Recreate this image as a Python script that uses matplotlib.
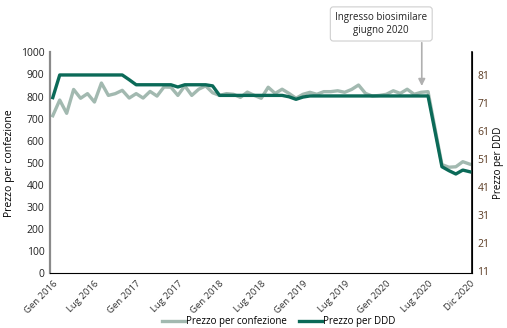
import matplotlib.pyplot as plt
import numpy as np

# prezzo per confezione (asse sinistro), 61 punti mensili
prezzo_confezione = [713, 784, 724, 832, 792, 813, 775, 861, 805, 813,
                     828, 793, 813, 793, 823, 802, 843, 842, 805, 848,
                     805, 833, 848, 817, 805, 813, 810, 796, 820, 805,
                     792, 842, 814, 833, 814, 792, 810, 819, 810, 822,
                     822, 826, 819, 832, 852, 814, 802, 805, 810, 826,
                     814, 833, 810, 819, 822, 656, 492, 480, 482, 505,
                     494]

# prezzo per DDD (asse destro)
prezzo_ddd = [73.0, 81.1, 81.1, 81.1, 81.1, 81.1, 81.1, 81.1, 81.1, 81.1,
              81.1, 79.4, 77.6, 77.6, 77.6, 77.6, 77.6, 77.6, 76.8, 77.6,
              77.6, 77.6, 77.6, 77.2, 73.8, 73.8, 73.8, 73.8, 73.8, 73.8,
              73.8, 73.8, 73.8, 73.8, 73.3, 72.4, 73.2, 73.6, 73.6, 73.6,
              73.6, 73.6, 73.6, 73.6, 73.6, 73.6, 73.6, 73.6, 73.6, 73.6,
              73.6, 73.6, 73.6, 73.6, 73.6, 61.0, 48.3, 46.9, 45.7, 47.1,
              46.5]

etichette_x = ["Gen 2016", "Lug 2016", "Gen 2017", "Lug 2017", "Gen 2018",
               "Lug 2018", "Gen 2019", "Lug 2019", "Gen 2020", "Lug 2020",
               "Dic 2020"]
tick_sinistra = [0, 100, 200, 300, 400, 500, 600, 700, 800, 900, 1000]
tick_destra = [11, 21, 31, 41, 51, 61, 71, 81]

chiaro = "#a2b9b0"
scuro = "#0b6a58"

plt.rcParams['font.family'] = ['Open Sans', 'DejaVu Sans']

fig = plt.figure(figsize=(5.07, 3.28), dpi=100)
ax = fig.add_axes([0.0986, 0.1668, 0.832, 0.6737])
ax2 = ax.twinx()

x = np.arange(len(prezzo_confezione))
l1, = ax.plot(x, prezzo_confezione, color=chiaro, lw=2.4,
              label="Prezzo per confezione", zorder=2)
l2, = ax2.plot(x, prezzo_ddd, color=scuro, lw=2.4,
               label="Prezzo per DDD", zorder=3)

ax.set_xlim(-0.4, 60.3)
ax.set_ylim(0, 1000)
ax2.set_ylim(10.2, 89.2)

ax.set_yticks(tick_sinistra)
ax.set_yticklabels([str(v) for v in tick_sinistra], fontsize=7.5,
                   color="#222222")
ax2.set_yticks(tick_destra)
ax2.set_yticklabels([str(v) for v in tick_destra], fontsize=7.5,
                    color="#5a3a22")
ax.set_xticks(np.arange(0, 61, 6))
ax.set_xticklabels(etichette_x, rotation=45, ha="right",
                   rotation_mode="anchor", fontsize=6.8, color="#333333")
ax.tick_params(length=0, pad=4)
ax2.tick_params(length=0, pad=4)

ax.set_ylabel("Prezzo per confezione", fontsize=7.5, labelpad=4)
ax2.set_ylabel("Prezzo per DDD", fontsize=7)
ax2.yaxis.set_label_coords(1.05, 0.5)

for a in (ax, ax2):
    a.spines["top"].set_visible(False)
ax.spines["left"].set_color("#8a8a8a")
ax.spines["left"].set_linewidth(1.6)
ax2.spines["left"].set_visible(False)
ax.spines["bottom"].set_color("black")
ax2.spines["bottom"].set_visible(False)
ax2.spines["right"].set_color("black")
ax2.spines["right"].set_linewidth(1.2)

# freccia ingresso biosimilare
ax.annotate("", xy=(53.1, 835), xytext=(53.1, 1056),
            arrowprops=dict(arrowstyle="-|>", color="#b0b0b0", lw=1.2,
                            mutation_scale=10),
            annotation_clip=False)
fig.text(0.752, 0.927, "Ingresso biosimilare\ngiugno 2020", ha="center",
         va="center", fontsize=7, color="#222222", linespacing=1.3,
         bbox=dict(boxstyle="round,pad=0.5,rounding_size=0.3",
                   facecolor="white", edgecolor="#cfcfcf", lw=0.8))

fig.legend(handles=[l1, l2], loc="lower center",
           bbox_to_anchor=(0.55, -0.025), ncol=2, frameon=False,
           fontsize=7, handlelength=2.4, handletextpad=0.1,
           columnspacing=1.2)

fig.savefig("out.png", dpi=100)
